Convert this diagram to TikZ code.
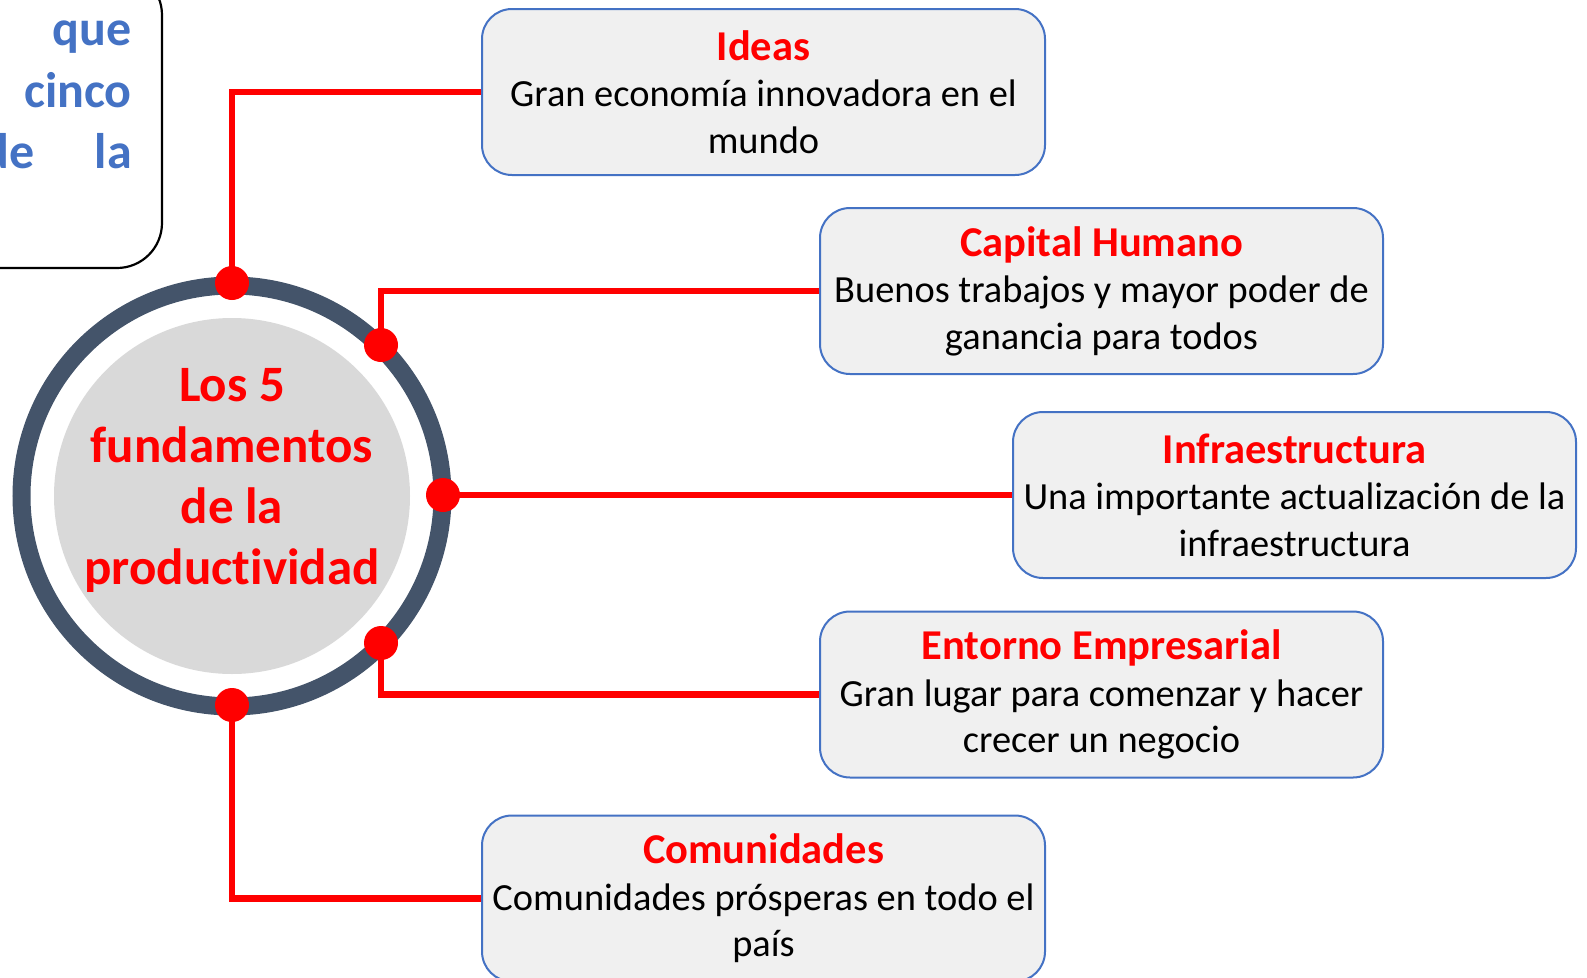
\documentclass[tikz,border=0pt]{standalone}
\usepackage{fontspec}
\setmainfont{Carlito}[Ligatures=NoCommon]
\usetikzlibrary{positioning,calc}
\definecolor{ringgray}{HTML}{44546A}
\definecolor{hubfill}{HTML}{D9D9D9}
\definecolor{boxfill}{HTML}{F0F0F0}
\definecolor{boxline}{HTML}{4472C4}
\definecolor{textblue}{HTML}{4472C4}
\definecolor{titlered}{HTML}{FF0000}
\newcommand{\boxtitle}[1]{{\bfseries\color{titlered}\fontsize{42.5}{47}\selectfont #1}}
\begin{document}
\begin{tikzpicture}[x=1pt,y=-1pt,
  fundbox/.style={draw=boxline,line width=2pt,fill=boxfill,rounded corners=30pt,
    minimum width=563pt,minimum height=166pt,inner sep=0pt,align=center,
    font=\fontsize{38.4}{46.5}\selectfont},
  hub/.style={circle,fill=hubfill,minimum size=356pt,inner sep=0pt},
  hubtext/.style={inner sep=0pt,align=center,text=titlered,
    font=\bfseries\fontsize{51}{61}\selectfont},
  link/.style={titlered,line width=6.5pt},
  dot/.style={circle,fill=titlered,minimum size=34pt,inner sep=0pt},
  bluetext/.style={inner sep=0pt,text=textblue,font=\bfseries\fontsize{50}{61}\selectfont}]
\useasboundingbox (0,0) rectangle (1587,977);
\clip (0,0) rectangle (1587,977);
% ---------------- cut-off text box, top left ----------------
\draw[black,line width=2.2pt,rounded corners=45pt] (-60,-30) rectangle (162,268);
\node[bluetext,anchor=base east] (wque) at (132,45) {que};
\node[bluetext,anchor=base east] (wcinco) at (132,107) {cinco};
\node[bluetext,anchor=base east] (wde) at (35,168) {de};
\node[bluetext,anchor=base east] (wla) at (132,168) {la};
% ---------------- hub ----------------
\node[hub] (hub) at (232,496) {};
\node[hubtext] (hubtitle) at (232,480) {Los 5\\fundamentos\\de la\\productividad};
\draw[ringgray,line width=18pt] (hub.center) circle[radius=210.5pt];
\coordinate (ptop) at (232,283);
\coordinate (pup) at (381,345);
\coordinate (pmid) at (443,495);
\coordinate (pdown) at (381,643);
\coordinate (pbot) at (232,705);
% ---------------- the five boxes ----------------
\node[fundbox] (ideas) at (763.5,92) {\boxtitle{Ideas}\\Gran economía innovadora en el\\mundo};
\node[fundbox] (capital) at (1101.5,291) {\boxtitle{Capital Humano}\\Buenos trabajos y mayor poder de\\ganancia para todos};
\node[fundbox] (infra) at (1294.5,495) {\boxtitle{Infraestructura}\\Una importante actualización de la\\infraestructura};
\node[fundbox] (entorno) at (1101.5,694.5) {\boxtitle{Entorno Empresarial}\\Gran lugar para comenzar y hacer\\crecer un negocio};
\node[fundbox] (comun) at (763.5,898.5) {\boxtitle{Comunidades}\\Comunidades prósperas en todo el\\país};
% connectors
\draw[link] (ptop) |- (ideas.west);
\draw[link] (pup) |- (capital.west);
\draw[link] (pmid) -- (infra.west);
\draw[link] (pdown) |- (entorno.west);
\draw[link] (pbot) |- (comun.west);
\foreach \n in {ptop,pup,pmid,pdown,pbot}
  \node[dot] (d\n) at (\n) {};
\end{tikzpicture}
\end{document}
